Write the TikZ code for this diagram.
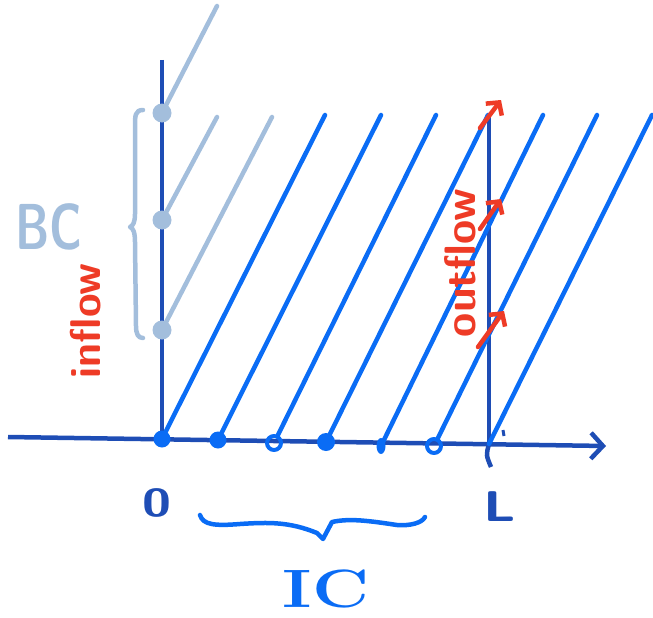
\documentclass[tikz,border=0pt]{standalone}
\usepackage{fontspec}
\usetikzlibrary{arrows.meta,backgrounds,shapes.geometric}
\definecolor{axisblue}{HTML}{1E4DB5}
\definecolor{charblue}{HTML}{0A6CF5}
\definecolor{bcgray}{HTML}{A3BEDC}
\definecolor{flowred}{HTML}{EE3B26}
\begin{document}
\begin{tikzpicture}[x=1pt,y=-1pt,line cap=round,line join=round,
  axis/.style={draw=axisblue,line width=4.5pt},
  charline/.style={draw=charblue,line width=4.5pt},
  bcline/.style={draw=bcgray,line width=4.5pt},
  flowarrow/.style={draw=flowred,line width=4.5pt,-{Straight Barb[length=9pt,width=20pt]}},
  fulldot/.style={circle,fill=charblue,inner sep=0pt,minimum size=17pt},
  opendot/.style={circle,draw=charblue,line width=4pt,inner sep=0pt,minimum size=14pt},
  ovaldot/.style={ellipse,fill=charblue,inner sep=0pt,minimum width=9pt,minimum height=16pt},
  bcdot/.style={circle,fill=bcgray,inner sep=0pt,minimum size=19pt},
  lbl/.style={inner sep=0pt}]
\useasboundingbox (0,0) rectangle (653,618);

% dots on the x axis (initial conditions)
\node[fulldot] (g0) at (162,439) {};
\node[fulldot] (g1) at (218,440) {};
\node[opendot] (g2) at (274,443) {};
\node[fulldot,minimum size=18pt] (g3) at (326,442) {};
\node[ovaldot] (g4) at (381,446) {};
\node[opendot] (g5) at (434,446) {};
\coordinate (gL) at (489,444);

% dots on the left boundary (boundary conditions)
\node[bcdot] (b1) at (162,113) {};
\node[bcdot] (b2) at (162,220) {};
\node[bcdot] (b3) at (162,330) {};

% axes
\coordinate (ax0) at (8,437);
\coordinate (ax1) at (606,446);
\coordinate (v0top) at (162,60);
\coordinate (vLtop) at (489,113);
\coordinate (vLtick) at (491,467);
\coordinate (tk0) at (503,430);
\coordinate (tk1) at (504,436);
\begin{scope}[on background layer]
  \draw[axis,-{Straight Barb[length=12pt,width=26pt]}] (ax0) -- (ax1);
  \draw[axis] (v0top) -- (g0.center);
  \draw[axis] (vLtop) -- (gL);
  \draw[axis] (gL) .. controls (486,455) .. (vLtick);
  \draw[axis,line width=3pt] (tk0) -- (tk1);
\end{scope}

% characteristics from the boundary
\coordinate (t1) at (217,6);
\coordinate (t2) at (217,117);
\coordinate (t3) at (272,117);
\draw[bcline] (b1.center) -- (t1);
\draw[bcline] (b2.center) -- (t2);
\draw[bcline] (b3.center) -- (t3);

% characteristics from the initial line
\coordinate (c0) at (325,115);
\coordinate (c1) at (381,115);
\coordinate (c2) at (436,115);
\coordinate (c3) at (488,115);
\coordinate (c4) at (543,115);
\coordinate (c5) at (597,115);
\coordinate (c6) at (652,115);
\draw[charline] (g0.center) -- (c0);
\draw[charline] (g1.center) -- (c1);
\draw[charline] (g2) -- (c2);
\draw[charline] (g3.center) -- (c3);
\draw[charline] (g4.center) -- (c4);
\draw[charline] (g5) -- (c5);
\draw[charline] (gL) -- (c6);

% outflow arrows
\coordinate (a1s) at (480,128);
\coordinate (a1e) at (501,100);
\coordinate (a2s) at (480,229);
\coordinate (a2e) at (501,199);
\coordinate (a3s) at (478,347);
\coordinate (a3e) at (504,311);
\draw[flowarrow] (a1s) -- (a1e);
\draw[flowarrow] (a2s) -- (a2e);
\draw[flowarrow] (a3s) -- (a3e);

% braces
\draw[bcline] (143,110) .. controls (135,110) and (135,116) .. (135,126)
  -- (135,214) .. controls (135,222) and (133,226) .. (130,227)
  .. controls (133,228) and (135,232) .. (135,242)
  -- (136,326) .. controls (136,334) and (138,338) .. (143,338);
\draw[charline] (200,515) .. controls (203,525) and (215,526) .. (240,524)
  .. controls (270,522) and (290,522) .. (317,533)
  -- (323,539) -- (332,522)
  .. controls (350,518) and (370,521) .. (397,525)
  .. controls (410,526) and (422,523) .. (425,517);

% labels
\node[lbl,text=bcgray,font=\sffamily\bfseries\fontsize{65}{70}\selectfont] (bc) at (49,227) {\scalebox{0.72}[1]{BC}};
\node[lbl,text=flowred,rotate=90,font=\sffamily\bfseries\fontsize{43}{46}\selectfont] (inflow) at (86,321) {inflow};
\node[lbl,text=flowred,rotate=90,font=\sffamily\bfseries\fontsize{44}{47}\selectfont] (outflow) at (460,263) {outflow};
\node[lbl,text=axisblue,font=\sffamily\bfseries\fontsize{39}{42}\selectfont] (zero) at (157,503) {\scalebox{1.35}[1]{0}};
\node[lbl,text=axisblue,font=\sffamily\bfseries\fontsize{43}{46}\selectfont] (L) at (500,507) {\scalebox{1.3}[1]{L}};
\node[lbl,text=charblue,font=\bfseries\fontsize{54}{58}\selectfont] (ic) at (326,589) {\scalebox{1.3}[1]{IC}};
\end{tikzpicture}
\end{document}
